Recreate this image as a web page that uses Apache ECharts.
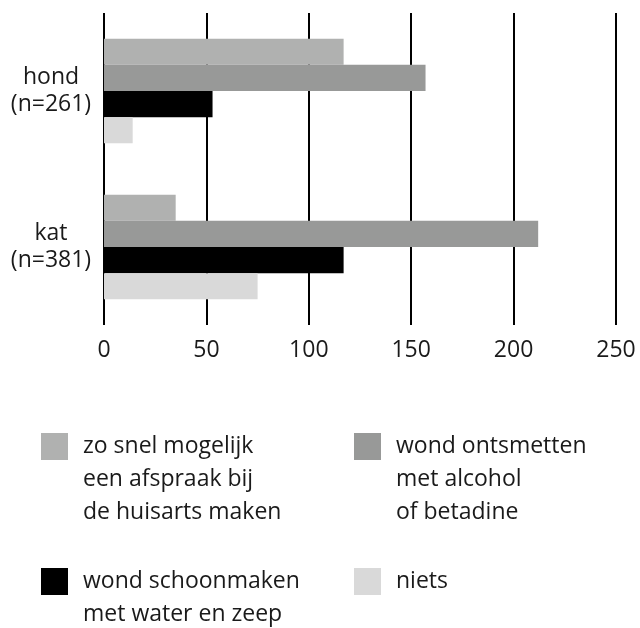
<!DOCTYPE html>
<html>
<head>
<meta charset="utf-8">
<script src="https://cdn.jsdelivr.net/npm/echarts@6/dist/echarts.min.js"></script>
<style>
  html, body { margin: 0; padding: 0; background: #fff; }
  #chart { width: 640px; height: 628px; }
</style>
</head>
<body>
<div id="chart"></div>
<script>
// categories (top to bottom)
const categories = ['hond\n(n=261)', 'kat\n(n=381)'];

// series names as shown in the legend
const nameGP = 'zo snel mogelijk\neen afspraak bij\nde huisarts maken';
const nameDisinfect = 'wond ontsmetten\nmet alcohol\nof betadine';
const nameClean = 'wond schoonmaken\nmet water en zeep';
const nameNothing = 'niets';

// values per category (hond, kat)
const gpValues = [117, 35];
const disinfectValues = [157, 212];
const cleanValues = [53, 117];
const nothingValues = [14, 75];

// x axis ticks
const xMin = 0, xMax = 250, xStep = 50;

const textColor = '#1a1a1a';
const font = '"Open Sans", sans-serif';
const blank = '\u00a0';

// legend text is vertically centred on the icon, so pad it with blank lines
// (2 above, fill below to 5) to put the first line next to the icon
function padLegend(name) {
    const lines = name.split('\n');
    const out = [blank, blank].concat(lines);
    while (out.length < 5) out.push(blank);
    return out.join('\n');
}

function legendBox(name, left, top) {
    return {
        data: [name],
        left: left,
        top: top,
        padding: 0,
        itemWidth: 27,
        itemHeight: 27,
        itemGap: 0,
        icon: 'rect',
        selectedMode: false,
        formatter: padLegend,
        textStyle: {
            color: textColor,
            fontFamily: font,
            fontSize: 23,
            lineHeight: 33,
            padding: [0, 0, 0, 10]
        }
    };
}

const chart = echarts.init(document.getElementById('chart'));
chart.setOption({
    animation: false,
    grid: { left: 104, right: 24, top: 13, bottom: 303 },
    legend: [
        legendBox(nameGP, 41, 364),
        legendBox(nameDisinfect, 354, 364),
        legendBox(nameClean, 41, 499),
        legendBox(nameNothing, 354, 499)
    ],
    xAxis: {
        type: 'value',
        min: xMin,
        max: xMax,
        interval: xStep,
        axisLine: { show: false },
        axisTick: { show: false },
        splitLine: { show: true, lineStyle: { color: '#000', width: 2 } },
        axisLabel: { color: textColor, fontFamily: font, fontSize: 23, margin: 14 }
    },
    yAxis: {
        type: 'category',
        data: categories,
        inverse: true,
        axisLine: { show: false },
        axisTick: { show: false },
        axisLabel: {
            color: textColor, fontFamily: font, fontSize: 23, lineHeight: 27,
            padding: [4, 0, 0, 0],
            align: 'center', margin: 53
        }
    },
    series: [
        { name: nameGP, type: 'bar', data: gpValues, itemStyle: { color: '#b0b1b0' }, barGap: 0, barCategoryGap: '33%' },
        { name: nameDisinfect, type: 'bar', data: disinfectValues, itemStyle: { color: '#989998' } },
        { name: nameClean, type: 'bar', data: cleanValues, itemStyle: { color: '#000000' } },
        { name: nameNothing, type: 'bar', data: nothingValues, itemStyle: { color: '#d9d9d9' } }
    ]
});
</script>
</body>
</html>
